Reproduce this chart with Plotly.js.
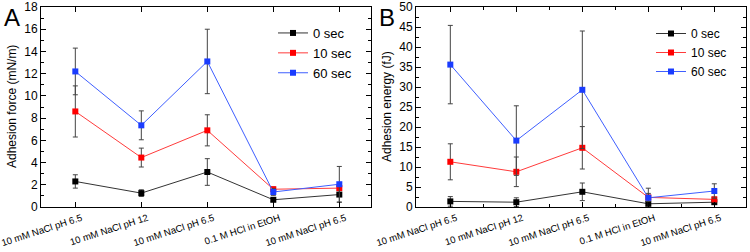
<!DOCTYPE html>
<html>
<head>
<meta charset="utf-8">
<script src="https://cdn.plot.ly/plotly-3.0.1.min.js"></script>
<style>html,body{margin:0;padding:0;background:#fff;}#chart{width:750px;height:252px;}</style>
</head>
<body>
<div id="chart"></div>
<script>
const categories = ["10 mM NaCl pH 6.5", "10 mM NaCl pH 12", "10 mM NaCl pH 6.5", "0.1 M HCl in EtOH", "10 mM NaCl pH 6.5"];
const seriesNames = ["0 sec", "10 sec", "60 sec"];

// Panel A: Adhesion force (mN/m)
const forceA0 = [2.3, 1.25, 3.15, 0.65, 1.12];
const forceA0err = [0.6, 0.3, 1.2, 0.15, 0.7];
const forceA10 = [8.6, 4.45, 6.9, 1.6, 1.7];
const forceA10err = [2.3, 0.85, 1.4, 0.2, 0.2];
const forceA60 = [12.2, 7.35, 13.1, 1.35, 2.05];
const forceA60err = [2.1, 1.3, 2.9, 0.3, 1.6];

// Panel B: Adhesion energy (fJ)
const energyB0 = [1.4, 1.2, 3.8, 0.8, 1.2];
const energyB0err = [1.2, 1.1, 2.2, 0.5, 0.5];
const energyB10 = [11.3, 8.8, 14.8, 2.4, 1.9];
const energyB10err = [4.5, 3.7, 5.3, 1.0, 0.6];
const energyB60 = [35.6, 16.6, 29.3, 2.3, 4.0];
const energyB60err = [9.8, 8.7, 14.7, 2.4, 1.8];

const xIdx = categories.map((c, i) => i);
const lineColors = ["#333333", "#ff3b3b", "#3f5fff"];
const markerColors = ["#000000", "#ff0000", "#1a3cff"];

function mk(y, err, k, xa, ya, legend) {
  return {
    x: xIdx, y: y, xaxis: xa, yaxis: ya, type: "scatter", mode: "lines+markers",
    name: seriesNames[k], showlegend: true, legend: legend,
    line: {color: lineColors[k], width: 1},
    marker: {symbol: "square", size: 6, color: markerColors[k]},
    error_y: {type: "data", array: err, visible: true, color: "#444", thickness: 1, width: 2.5}
  };
}

const traces = [
  mk(forceA0, forceA0err, 0, "x", "y", "legend"),
  mk(forceA10, forceA10err, 1, "x", "y", "legend"),
  mk(forceA60, forceA60err, 2, "x", "y", "legend"),
  mk(energyB0, energyB0err, 0, "x2", "y2", "legend2"),
  mk(energyB10, energyB10err, 1, "x2", "y2", "legend2"),
  mk(energyB60, energyB60err, 2, "x2", "y2", "legend2")
];

const font = {family: "Liberation Sans, Arial, sans-serif", color: "#000"};
const yTop = 1 - 7/252, yBot = 1 - 207/252;

function xaxis(domain, anchor, minor) {
  const ax = {
    domain: domain, anchor: anchor, range: [-0.52, 4.48],
    tickvals: xIdx, ticktext: categories, tickangle: -18,
    ticklabeloverflow: "allow", ticklabelshift: 6, ticklabelstandoff: 1,
    ticks: "inside", ticklen: 5, tickwidth: 1, tickcolor: "#000",
    showline: true, linecolor: "#000", linewidth: 1, mirror: "allticks",
    showgrid: false, zeroline: false,
    tickfont: {family: font.family, size: 9.6, color: "#000"}
  };
  if (minor) ax.minor = {tickvals: [0.5, 1.5, 2.5, 3.5], ticks: "inside", ticklen: 3, tickcolor: "#000", showgrid: false};
  return ax;
}
function yaxis(anchor, range, dtick, minorDtick) {
  return {
    domain: [yBot, yTop], anchor: anchor, range: range, dtick: dtick, tick0: 0,
    ticks: "inside", ticklen: 5, tickwidth: 1, tickcolor: "#000",
    showline: true, linecolor: "#000", linewidth: 1, mirror: "allticks",
    showgrid: false, zeroline: false,
    minor: {dtick: minorDtick, ticks: "inside", ticklen: 3, tickcolor: "#000", showgrid: false},
    tickfont: {family: font.family, size: 12, color: "#000"}
  };
}

const layout = {
  width: 750, height: 252,
  margin: {l: 0, r: 0, t: 0, b: 0},
  paper_bgcolor: "#fff", plot_bgcolor: "#fff",
  font: font,
  xaxis: xaxis([41/750, 371/750], "y", false),
  yaxis: yaxis("x", [0, 18], 2, 1),
  xaxis2: xaxis([416/750, 746/750], "y2", true),
  yaxis2: yaxis("x2", [0, 50], 5, 2.5),
  legend: {x: 273/750, y: 1 - 18/252, xanchor: "left", yanchor: "top", bgcolor: "rgba(0,0,0,0)",
           font: {family: font.family, size: 13, color: "#000"}, tracegroupgap: 0, itemwidth: 30},
  legend2: {x: 651/750, y: 1 - 19/252, xanchor: "left", yanchor: "top", bgcolor: "rgba(0,0,0,0)",
           font: {family: font.family, size: 12, color: "#000"}, tracegroupgap: 0, itemwidth: 30},
  annotations: [
    {text: "A", x: 2/750, y: 1 - 2/252, xref: "paper", yref: "paper", xanchor: "left", yanchor: "top",
     showarrow: false, font: {family: font.family, size: 24, color: "#000"}},
    {text: "B", x: 377/750, y: 1 - 2/252, xref: "paper", yref: "paper", xanchor: "left", yanchor: "top",
     showarrow: false, font: {family: font.family, size: 24, color: "#000"}},
    {text: "Adhesion force (mN/m)", x: 12/750, y: 1 - 107/252, xref: "paper", yref: "paper",
     textangle: -90, showarrow: false, xanchor: "center", yanchor: "middle",
     font: {family: font.family, size: 12, color: "#000"}},
    {text: "Adhesion energy (fJ)", x: 387/750, y: 1 - 107/252, xref: "paper", yref: "paper",
     textangle: -90, showarrow: false, xanchor: "center", yanchor: "middle",
     font: {family: font.family, size: 12, color: "#000"}}
  ]
};

Plotly.newPlot("chart", traces, layout, {staticPlot: true, displayModeBar: false});
</script>
</body>
</html>
